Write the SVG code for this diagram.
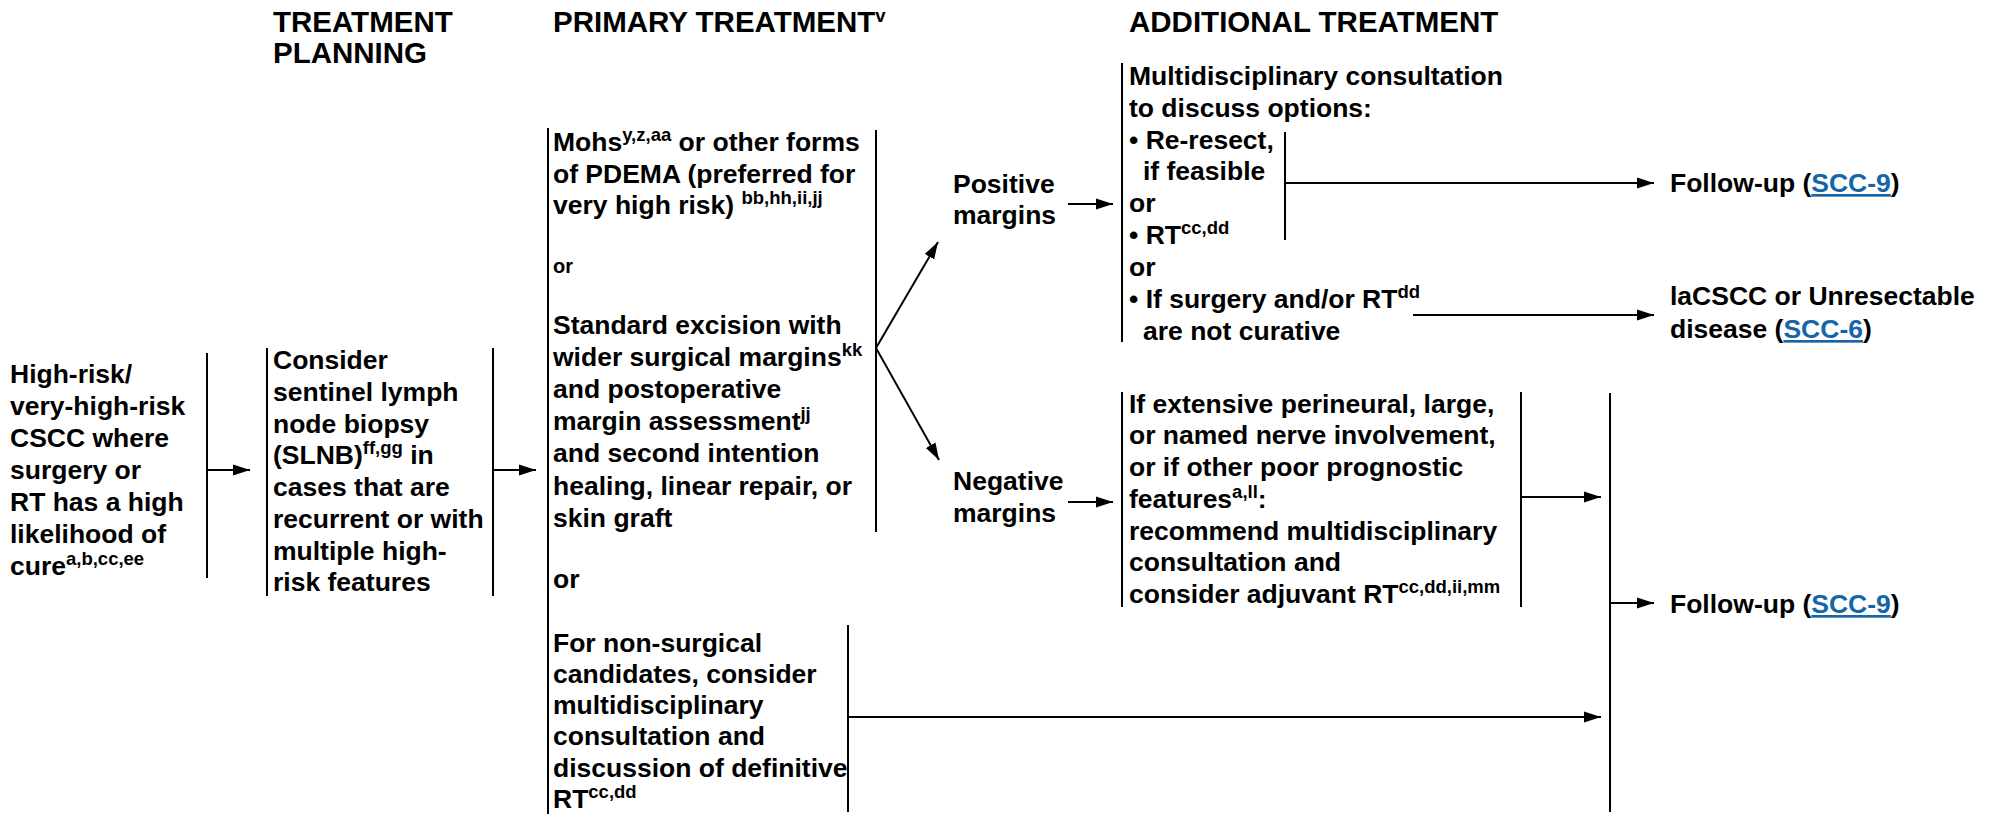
<svg xmlns="http://www.w3.org/2000/svg" width="1994" height="814" viewBox="0 0 1994 814">
<style>
text{font-family:"Liberation Sans",Arial,sans-serif;font-weight:bold;fill:#000;font-size:26.5px}
.h{font-size:29.5px}
.s{font-size:18.5px}
.sm{font-size:20px}
.ln{stroke:#000;stroke-width:2;fill:none}
.lk{fill:#1565a8;text-decoration:underline}
</style>
<defs>
<marker id="ah" markerUnits="userSpaceOnUse" markerWidth="18" markerHeight="14" refX="17" refY="7" orient="auto">
<path d="M0,1.5 L17,7 L0,12.5 Z" fill="#000"/>
</marker>
</defs>
<rect width="1994" height="814" fill="#fff"/>
<g id="headers">
<text class="h" x="273" y="32">TREATMENT</text>
<text class="h" x="273" y="63">PLANNING</text>
<text class="h" x="553" y="32">PRIMARY TREATMENT<tspan class="s" dy="-10">v</tspan></text>
<text class="h" x="1129" y="32">ADDITIONAL TREATMENT</text>
</g>
<g id="n-start">
<line class="ln" x1="207" y1="353" x2="207" y2="578"/>
<text x="10" y="383">High-risk/</text>
<text x="10" y="415">very-high-risk</text>
<text x="10" y="447">CSCC where</text>
<text x="10" y="479">surgery or</text>
<text x="10" y="511">RT has a high</text>
<text x="10" y="543">likelihood of</text>
<text x="10" y="575">cure<tspan class="s" dy="-10">a,b,cc,ee</tspan></text>
</g>
<g id="n-planning">
<line class="ln" x1="267" y1="348" x2="267" y2="596"/>
<line class="ln" x1="493" y1="348" x2="493" y2="596"/>
<text x="273" y="369">Consider</text>
<text x="273" y="401">sentinel lymph</text>
<text x="273" y="433">node biopsy</text>
<text x="273" y="464">(SLNB)<tspan class="s" dy="-10">ff,gg</tspan><tspan dy="10"> in</tspan></text>
<text x="273" y="496">cases that are</text>
<text x="273" y="528">recurrent or with</text>
<text x="273" y="560">multiple high-</text>
<text x="273" y="591">risk features</text>
</g>
<g id="n-primary">
<line class="ln" x1="548" y1="128" x2="548" y2="814"/>
<line class="ln" x1="876" y1="130" x2="876" y2="532"/>
<text x="553" y="151">Mohs<tspan class="s" dy="-10">y,z,aa</tspan><tspan dy="10"> or other forms</tspan></text>
<text x="553" y="183">of PDEMA (preferred for</text>
<text x="553" y="214">very high risk) <tspan class="s" dy="-10">bb,hh,ii,jj</tspan></text>
<text class="sm" x="553" y="273">or</text>
<text x="553" y="334">Standard excision with</text>
<text x="553" y="366">wider surgical margins<tspan class="s" dy="-10">kk</tspan></text>
<text x="553" y="398">and postoperative</text>
<text x="553" y="430">margin assessment<tspan class="s" dy="-10">jj</tspan></text>
<text x="553" y="462">and second intention</text>
<text x="553" y="495">healing, linear repair, or</text>
<text x="553" y="527">skin graft</text>
<text x="553" y="588">or</text>
</g>
<g id="n-nonsurgical">
<line class="ln" x1="848" y1="625" x2="848" y2="812"/>
<text x="553" y="652">For non-surgical</text>
<text x="553" y="683">candidates, consider</text>
<text x="553" y="714">multidisciplinary</text>
<text x="553" y="745">consultation and</text>
<text x="553" y="777">discussion of definitive</text>
<text x="553" y="808">RT<tspan class="s" dy="-10">cc,dd</tspan></text>
</g>
<g id="n-positive">
<text x="953" y="193">Positive</text>
<text x="953" y="224">margins</text>
</g>
<g id="n-negative">
<text x="953" y="490">Negative</text>
<text x="953" y="522">margins</text>
</g>
<g id="n-pos-treatment">
<line class="ln" x1="1122" y1="63" x2="1122" y2="342"/>
<line class="ln" x1="1285" y1="132" x2="1285" y2="240"/>
<text x="1129" y="85">Multidisciplinary consultation</text>
<text x="1129" y="117">to discuss options:</text>
<text x="1129" y="149">• Re-resect,</text>
<text x="1143" y="180">if feasible</text>
<text x="1129" y="212">or</text>
<text x="1129" y="244">• RT<tspan class="s" dy="-10">cc,dd</tspan></text>
<text x="1129" y="276">or</text>
<text x="1129" y="308">• If surgery and/or RT<tspan class="s" dy="-10">dd</tspan></text>
<text x="1143" y="340">are not curative</text>
</g>
<g id="n-neg-treatment">
<line class="ln" x1="1122" y1="392" x2="1122" y2="607"/>
<line class="ln" x1="1521" y1="392" x2="1521" y2="607"/>
<text x="1129" y="413">If extensive perineural, large,</text>
<text x="1129" y="444">or named nerve involvement,</text>
<text x="1129" y="476">or if other poor prognostic</text>
<text x="1129" y="508">features<tspan class="s" dy="-10">a,ll</tspan><tspan dy="10">:</tspan></text>
<text x="1129" y="540">recommend multidisciplinary</text>
<text x="1129" y="571">consultation and</text>
<text x="1129" y="603">consider adjuvant RT<tspan class="s" dy="-10">cc,dd,ii,mm</tspan></text>
</g>
<g id="n-followup1">
<text x="1670" y="192">Follow-up (<tspan class="lk">SCC-9</tspan>)</text>
</g>
<g id="n-lacscc">
<text x="1670" y="305">laCSCC or Unresectable</text>
<text x="1670" y="338">disease (<tspan class="lk">SCC-6</tspan>)</text>
</g>
<g id="n-followup2">
<line class="ln" x1="1610" y1="393" x2="1610" y2="812"/>
<text x="1670" y="613">Follow-up (<tspan class="lk">SCC-9</tspan>)</text>
</g>
<g id="connectors" class="ln" marker-end="url(#ah)">
<line x1="207" y1="470" x2="250" y2="470"/>
<line x1="493" y1="470" x2="536" y2="470"/>
<line x1="876" y1="348" x2="938" y2="242"/>
<line x1="876" y1="348" x2="939" y2="460"/>
<line x1="1068" y1="204" x2="1113" y2="204"/>
<line x1="1068" y1="502" x2="1113" y2="502"/>
<line x1="1285" y1="183" x2="1654" y2="183"/>
<line x1="1413" y1="315" x2="1654" y2="315"/>
<line x1="848" y1="717" x2="1601" y2="717"/>
<line x1="1521" y1="497" x2="1601" y2="497"/>
<line x1="1610" y1="603" x2="1654" y2="603"/>
</g>
</svg>
